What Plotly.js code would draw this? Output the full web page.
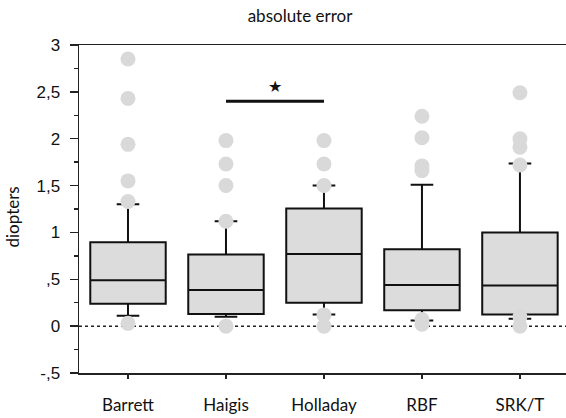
<!DOCTYPE html>
<html>
<head>
<meta charset="utf-8">
<script src="https://cdn.plot.ly/plotly-3.0.1.min.js"></script>
<style>html,body{margin:0;padding:0;background:#fff}</style>
</head>
<body>
<div id="chart" style="width:566px;height:418px"></div>
<script>
const categories = ['Barrett', 'Haigis', 'Holladay', 'RBF', 'SRK/T'];
const q1 = [0.24, 0.13, 0.25, 0.17, 0.125];
const medians = [0.49, 0.385, 0.77, 0.44, 0.435];
const q3 = [0.895, 0.765, 1.255, 0.82, 1.0];
const lowerFence = [0.11, 0.10, 0.125, 0.06, 0.08];
const upperFence = [1.30, 1.12, 1.50, 1.51, 1.735];

const outliersBarrett = [2.85, 2.43, 1.94, 1.55, 1.33, 0.03];
const outliersHaigis = [1.98, 1.73, 1.50, 1.12, 0.0];
const outliersHolladay = [1.98, 1.73, 1.50, 0.12, 0.0];
const outliersRBF = [2.24, 2.01, 1.71, 1.66, 0.07, 0.02];
const outliersSRKT = [2.49, 2.00, 1.91, 1.72, 0.10, 0.0];

const yTickVals = [-0.5, 0, 0.5, 1, 1.5, 2, 2.5, 3];
const yTickText = ['-,5', '0', ',5', '1', '1,5', '2', '2,5', '3'];

const sigLevel = 2.40;
const sigLabel = '★';

const outlierGroups = [outliersBarrett, outliersHaigis, outliersHolladay, outliersRBF, outliersSRKT];
const ox = [], oy = [];
outlierGroups.forEach((g, i) => g.forEach(v => { ox.push(categories[i]); oy.push(v); }));

const boxTrace = {
  type: 'box',
  x: categories,
  q1: q1, median: medians, q3: q3,
  lowerfence: lowerFence, upperfence: upperFence,
  boxpoints: false,
  fillcolor: '#dcdcdc',
  line: {color: '#111', width: 2},
  whiskerwidth: 0.3,
  width: 0.77,
  hoverinfo: 'skip'
};

const outlierTrace = {
  type: 'scatter', mode: 'markers',
  x: ox, y: oy,
  marker: {color: '#d9d9d9', size: 15, line: {width: 0}},
  hoverinfo: 'skip'
};

const layout = {
  width: 566, height: 418,
  margin: {l: 79, r: 0, t: 45, b: 45},
  paper_bgcolor: '#fff', plot_bgcolor: '#fff',
  showlegend: false,
  title: {
    text: 'absolute error',
    font: {family: 'Lato, sans-serif', size: 17, color: '#111'},
    x: 300 / 566, xref: 'container', xanchor: 'center',
    y: 1 - 16 / 418, yref: 'container', yanchor: 'middle'
  },
  xaxis: {
    type: 'category',
    categoryorder: 'array', categoryarray: categories,
    range: [-0.5, 4.47],
    showline: true, linecolor: '#222', linewidth: 1.5, mirror: true,
    ticks: 'outside', ticklen: 4, tickwidth: 1.5, tickcolor: '#222',
    ticklabelstandoff: 12,
    showgrid: false, zeroline: false,
    tickfont: {family: 'Lato, sans-serif', size: 17, color: '#111'}
  },
  yaxis: {
    range: [-0.5, 3],
    tickmode: 'array', tickvals: yTickVals, ticktext: yTickText,
    showline: true, linecolor: '#222', linewidth: 1.5,
    ticks: 'outside', ticklen: 8, tickwidth: 1.5, tickcolor: '#222',
    ticklabelstandoff: 6,
    showgrid: false, zeroline: false,
    minor: {tickmode: 'linear', tick0: 0.25, dtick: 0.5, ticks: 'outside', ticklen: 4, tickwidth: 1.5, tickcolor: '#222', showgrid: false},
    tickfont: {family: '"Liberation Sans", Arial, sans-serif', size: 17, color: '#111'}
  },
  shapes: [
    {type: 'line', xref: 'paper', yref: 'y', x0: 0, x1: 1, y0: 0, y1: 0,
     line: {color: '#222', width: 1.5, dash: 'dot'}, layer: 'below'},
    {type: 'line', xref: 'x', yref: 'y', x0: 1, x1: 2, y0: sigLevel, y1: sigLevel,
     line: {color: '#111', width: 3}}
  ],
  annotations: [
    {xref: 'x', yref: 'y', x: 1.5, y: 2.56, text: sigLabel, showarrow: false,
     font: {family: 'DejaVu Sans', size: 16, color: '#111'}},
    {xref: 'paper', yref: 'paper', x: (12 - 79) / 487, y: (372.5 - 217) / 328,
     text: 'diopters', textangle: -90, showarrow: false, xanchor: 'center', yanchor: 'middle',
     font: {family: 'Lato, sans-serif', size: 17, color: '#111'}}
  ]
};

Plotly.newPlot('chart', [boxTrace, outlierTrace], layout, {displayModeBar: false, staticPlot: true});
</script>
</body>
</html>
